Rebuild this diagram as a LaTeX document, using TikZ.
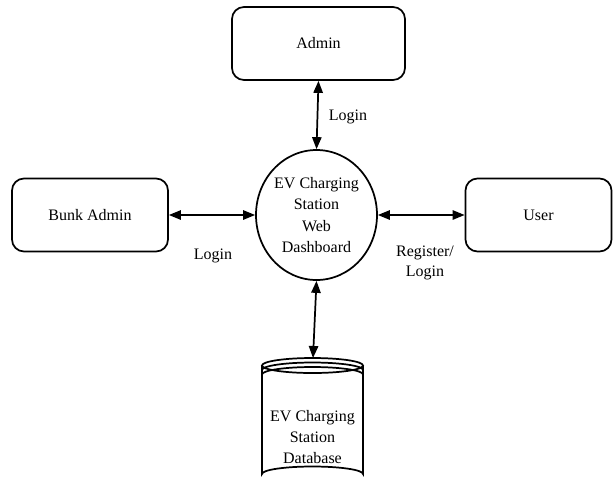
\documentclass[tikz,border=0pt]{standalone}
\usepackage{fontspec}
\setmainfont{Liberation Serif}
\usetikzlibrary{arrows.meta,shapes.geometric}
\begin{document}
\begin{tikzpicture}[x=0.75pt,y=-0.75pt,
  ent/.style={draw,line width=1.3pt,rounded corners=9pt,minimum width=#1,minimum height=54.75pt,font=\fontsize{12}{15}\selectfont,inner sep=0pt},
  proc/.style={draw,ellipse,line width=1.3pt,minimum width=90.75pt,minimum height=97.5pt,inner sep=0pt,align=center,font=\fontsize{12}{16}\selectfont},
  link/.style={line width=1.3pt,{Triangle[length=9pt,width=7pt]}-{Triangle[length=9pt,width=7pt]}},
  lbl/.style={font=\fontsize{12}{15}\selectfont,align=center,inner sep=0pt}]
\useasboundingbox (0,0) rectangle (613,483);
\node[ent=129.75pt] (admin) at (318.5,43.5) {Admin};
\node[ent=117pt] (bunk) at (90,215) {Bunk Admin};
\node[ent=109.5pt] (user) at (538.5,215) {User};
\node[proc] (dash) at (316.5,215) {EV Charging\\Station\\Web\\Dashboard};
% database cylinder
\begin{scope}[line width=1.3pt]
\draw (312.5,365.5) ellipse [x radius=50.5, y radius=7.5];
\draw (262,370) arc[start angle=180,end angle=360,x radius=50.5,y radius=7.5];
\draw (262,374.5) arc[start angle=180,end angle=360,x radius=50.5,y radius=7.5];
\draw (262,365.5) -- (262,474) arc[start angle=180,end angle=360,x radius=50.5,y radius=7.5] -- (363,365.5);
\end{scope}
\node[lbl,font=\fontsize{12}{16}\selectfont] (db) at (312.5,437) {EV Charging\\Station\\Database};
\coordinate (dbtop) at (313,358);
\draw[link] (admin.south) -- (dash.north);
\draw[link] (bunk.east) -- (dash.west);
\draw[link] (dash.east) -- (user.west);
\draw[link] (dash.south) -- (dbtop);
\node[lbl] (l1) at (348,117) {Login};
\node[lbl] (l2) at (213,256) {Login};
\node[lbl,font=\fontsize{12}{15}\selectfont] (l3) at (425,263) {Register/\\Login};
\end{tikzpicture}
\end{document}
